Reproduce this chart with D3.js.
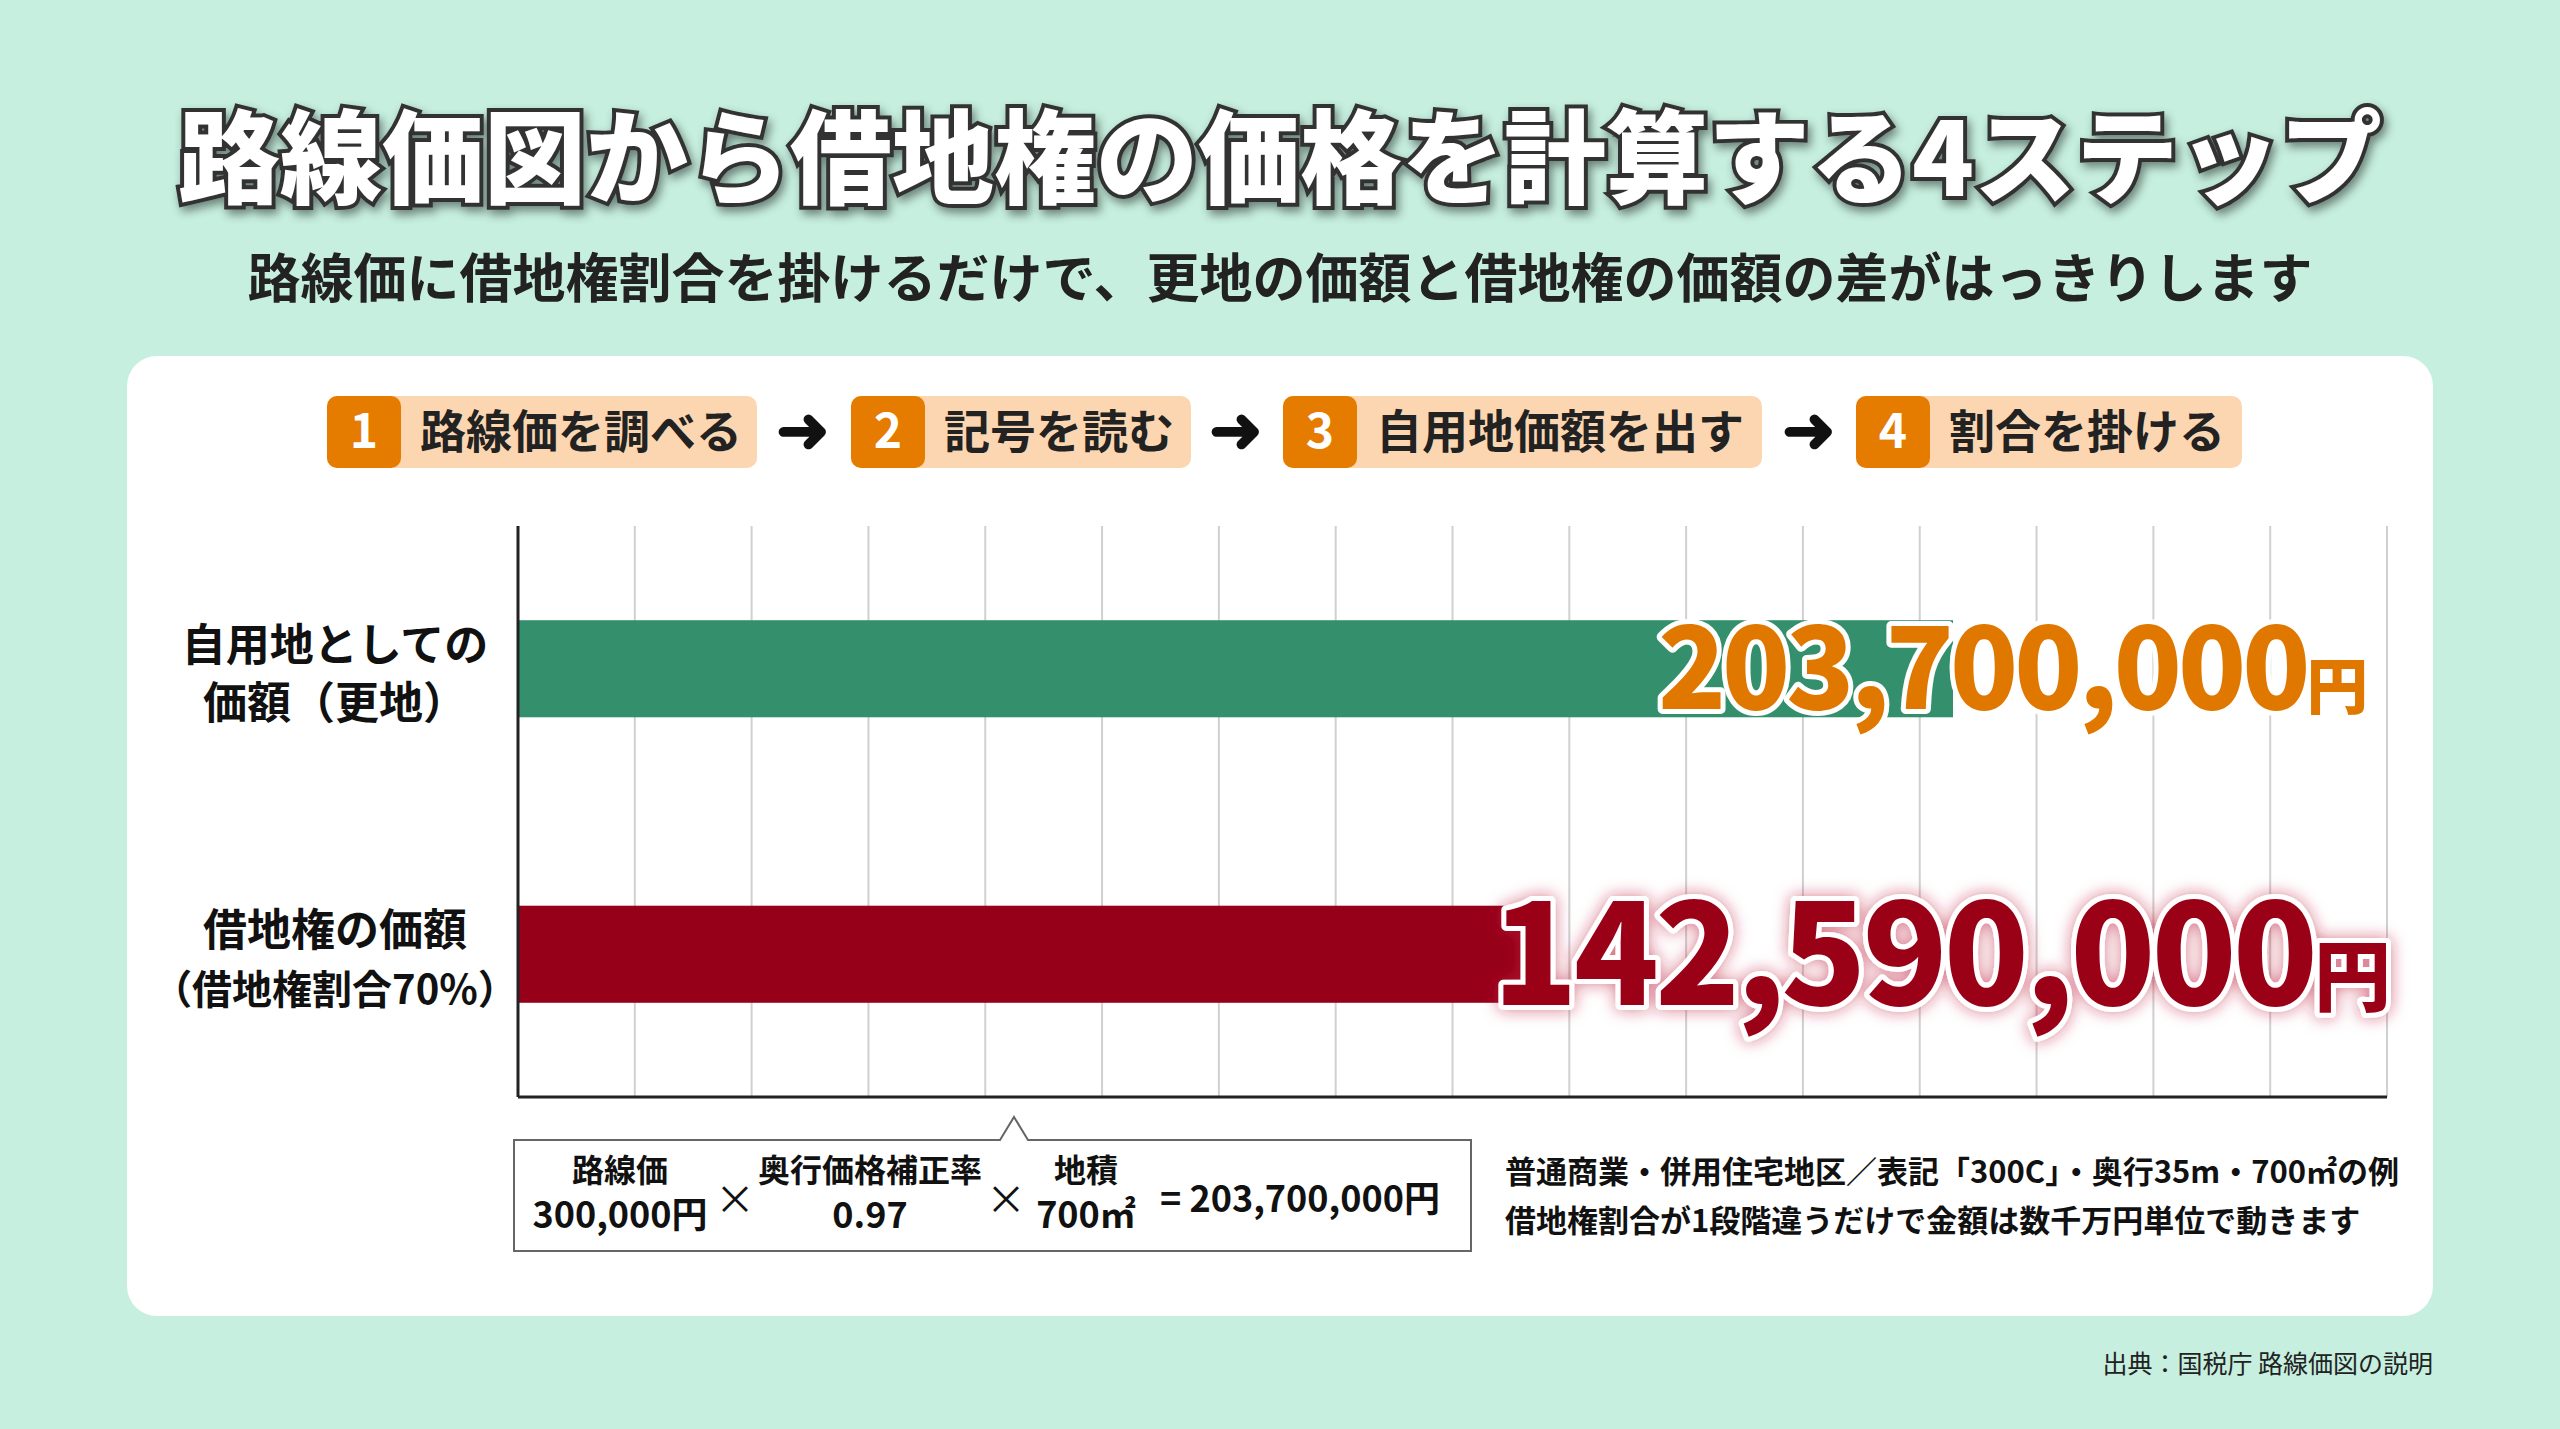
<!DOCTYPE html>
<html><head><meta charset="utf-8">
<script src="https://cdn.jsdelivr.net/npm/d3@7"></script>
<style>body{margin:0;background:#c6efdf;} svg{display:block;font-family:"Noto Sans CJK JP","Noto Sans",sans-serif;}</style>
</head><body>
<div id="chart"></div>
<script>
var categories = [["自用地としての", "価額（更地）"], ["借地権の価額", "（借地権割合70%）"]];
var values = [203700000, 142590000];
var valueLabels = ["203,700,000", "142,590,000"];
var steps = ["路線価を調べる", "記号を読む", "自用地価額を出す", "割合を掛ける"];
var formulaTop = ["路線価", "奥行価格補正率", "地積"];
var formulaBottom = ["300,000円", "0.97", "700㎡"];
var formulaResult = "= 203,700,000円";
var notes = ["普通商業・併用住宅地区／表記「300C」・奥行35m・700㎡の例", "借地権割合が1段階違うだけで金額は数千万円単位で動きます"];

var W = 2560, H = 1429;
var svg = d3.select("#chart").append("svg").attr("width", W).attr("height", H);
var defs = svg.append("defs");
var glow = defs.append("filter").attr("id", "glow").attr("x", "-10%").attr("y", "-30%").attr("width", "120%").attr("height", "160%");
glow.append("feDropShadow").attr("dx", 0).attr("dy", 0).attr("stdDeviation", 8).attr("flood-color", "#c0203a").attr("flood-opacity", 0.6);
var shadow = defs.append("filter").attr("id", "shadow").attr("x", "-5%").attr("y", "-30%").attr("width", "110%").attr("height", "160%");
shadow.append("feDropShadow").attr("dx", 3).attr("dy", 5).attr("stdDeviation", 5).attr("flood-color", "#000").attr("flood-opacity", 0.45);

svg.append("rect").attr("width", W).attr("height", H).attr("fill", "#c6efdf");

// title
svg.append("text").attr("x", W/2).attr("y", 196).attr("text-anchor", "middle")
  .attr("font-size", 102).attr("font-weight", 900).attr("fill", "#fff")
  .attr("stroke", "#333").attr("stroke-width", 8).attr("paint-order", "stroke")
  .attr("filter", "url(#shadow)").text("路線価図から借地権の価格を計算する4ステップ");
svg.append("text").attr("x", W/2).attr("y", 298).attr("text-anchor", "middle")
  .attr("font-size", 53).attr("font-weight", 700).attr("fill", "#222")
  .text("路線価に借地権割合を掛けるだけで、更地の価額と借地権の価額の差がはっきりします");

// card
svg.append("rect").attr("x", 127).attr("y", 356).attr("width", 2306).attr("height", 960).attr("rx", 30).attr("fill", "#fff");

// steps
var stepX = [327, 851, 1283, 1856], stepW = [430, 340, 479, 386];
var sg = svg.selectAll(".step").data(steps).enter().append("g").attr("class", "step")
  .attr("transform", function(d, i) { return "translate(" + stepX[i] + ",396)"; });
sg.append("rect").attr("width", function(d, i) { return stepW[i]; }).attr("height", 72).attr("rx", 10).attr("fill", "#fcd6b0");
sg.append("rect").attr("width", 74).attr("height", 72).attr("rx", 10).attr("fill", "#e57c00");
sg.append("text").attr("x", 37).attr("y", 52).attr("text-anchor", "middle").attr("font-size", 48).attr("font-weight", 700).attr("fill", "#fff").text(function(d, i) { return i + 1; });
sg.append("text").attr("x", 93).attr("y", 52).attr("font-size", 46).attr("font-weight", 700).attr("fill", "#222").text(function(d) { return d; });
[803, 1236, 1809].forEach(function(cx) {
  svg.append("text").attr("x", cx).attr("y", 452).attr("text-anchor", "middle").attr("font-size", 64).attr("font-weight", 900).attr("fill", "#111").text("➜");
});

// chart
var cLeft = 518, cRight = 2387, cTop = 526, cBottom = 1097;
var x = d3.scaleLinear().domain([0, 265300000]).range([cLeft, cRight]);
var y = d3.scaleBand().domain(d3.range(values.length)).range([cTop, cBottom]).paddingInner(0.66).paddingOuter(0.33);

svg.append("g").selectAll("line").data(d3.range(1, 17).map(function(i) { return 265300000 * i / 16; }))
  .enter().append("line").attr("x1", x).attr("x2", x).attr("y1", cTop).attr("y2", cBottom)
  .attr("stroke", "#d0d0d0").attr("stroke-width", 2);

var colors = ["#34906c", "#960018"];
svg.selectAll(".bar").data(values).enter().append("rect").attr("class", "bar")
  .attr("x", cLeft).attr("y", function(d, i) { return y(i); })
  .attr("width", function(d) { return x(d) - cLeft; }).attr("height", y.bandwidth())
  .attr("fill", function(d, i) { return colors[i]; });

svg.append("line").attr("x1", cLeft).attr("x2", cLeft).attr("y1", cTop).attr("y2", cBottom).attr("stroke", "#222").attr("stroke-width", 3);
svg.append("line").attr("x1", cLeft).attr("x2", cRight).attr("y1", cBottom).attr("y2", cBottom).attr("stroke", "#222").attr("stroke-width", 3);

// category labels
categories.forEach(function(c, i) {
  var cy = y(i) + y.bandwidth() / 2;
  svg.append("text").attr("x", 335).attr("y", cy - 8).attr("text-anchor", "middle").attr("font-size", 44).attr("font-weight", 700).attr("fill", "#111").text(c[0]);
  svg.append("text").attr("x", 335).attr("y", cy + 50).attr("text-anchor", "middle").attr("font-size", i ? 40 : 44).attr("font-weight", 700).attr("fill", "#111").text(c[1]);
});

// value labels
var vSize = [112, 140], vCol = ["#e07800", "#9a0018"], vRight = [2364, 2387];
valueLabels.forEach(function(v, i) {
  var cy = y(i) + y.bandwidth() / 2;
  var t = svg.append("text").attr("x", vRight[i]).attr("y", cy + vSize[i] * 0.36).attr("text-anchor", "end")
    .attr("font-weight", 900).attr("fill", vCol[i]).attr("stroke", "#fff").attr("stroke-width", 10)
    .attr("paint-order", "stroke").attr("stroke-linejoin", "round").attr("letter-spacing", -4);
  if (i == 1) t.attr("filter", "url(#glow)");
  t.append("tspan").attr("font-size", vSize[i]).text(v);
  t.append("tspan").attr("font-size", vSize[i] * 0.55).text("円");
});

// formula box
var bx = 514, by = 1140, bw = 957, bh = 111;
svg.append("path").attr("d", "M" + bx + "," + by + "H1000L1014,1117L1028," + by + "H" + (bx + bw) + "V" + (by + bh) + "H" + bx + "Z")
  .attr("fill", "#fff").attr("stroke", "#666").attr("stroke-width", 2);
var fx = [620, 870, 1086];
formulaTop.forEach(function(t, i) {
  svg.append("text").attr("x", fx[i]).attr("y", by + 42).attr("text-anchor", "middle").attr("font-size", 32).attr("font-weight", 700).attr("fill", "#111").text(t);
  svg.append("text").attr("x", fx[i]).attr("y", by + 88).attr("text-anchor", "middle").attr("font-size", 36).attr("font-weight", 700).attr("fill", "#111").text(formulaBottom[i]);
});
[735, 1006].forEach(function(cx) {
  svg.append("text").attr("x", cx).attr("y", by + 74).attr("text-anchor", "middle").attr("font-size", 40).attr("fill", "#111").text("×");
});
svg.append("text").attr("x", 1160).attr("y", by + 72).attr("font-size", 36).attr("font-weight", 700).attr("fill", "#111").text(formulaResult);

notes.forEach(function(n, i) {
  svg.append("text").attr("x", 1505).attr("y", 1183 + i * 49).attr("font-size", 31).attr("font-weight", 700).attr("fill", "#111").text(n);
});

svg.append("text").attr("x", 2433).attr("y", 1373).attr("text-anchor", "end").attr("font-size", 25).attr("fill", "#222").text("出典：国税庁 路線価図の説明");
</script>
</body></html>
